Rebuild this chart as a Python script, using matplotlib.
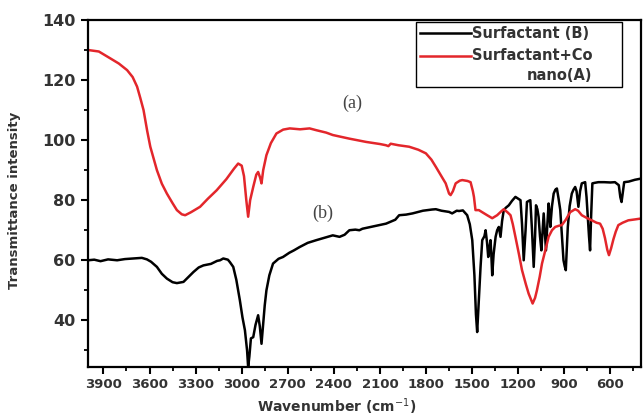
import matplotlib
matplotlib.use("Agg")
import matplotlib.pyplot as plt
from matplotlib.ticker import MultipleLocator
from matplotlib.legend_handler import HandlerLine2D

# FTIR spectra (wavenumber in cm^-1, transmittance)
# curve (a): surfactant + Co nano
wn_a = [4000, 3930, 3855, 3800, 3746, 3710, 3681, 3660, 3639, 3615, 3595, 3552,
        3520, 3487, 3450, 3422, 3390, 3368, 3330, 3271, 3220, 3163, 3100, 3050,
        3023, 3000, 2985, 2970, 2958, 2945, 2925, 2905, 2893, 2880, 2871, 2860,
        2839, 2810, 2774, 2730, 2687, 2620, 2558, 2514, 2450, 2407, 2300, 2190,
        2100, 2061, 2045, 2030, 1980, 1910, 1850, 1801, 1765, 1736, 1700, 1672,
        1650, 1640, 1625, 1607, 1580, 1564, 1530, 1510, 1495, 1488, 1478, 1456,
        1434, 1402, 1369, 1337, 1310, 1294, 1270, 1250, 1235, 1218, 1195, 1175,
        1150, 1132, 1106, 1090, 1078, 1060, 1045, 1020, 1002, 980, 959, 935,
        916, 890, 862, 829, 810, 786, 750, 721, 690, 667, 650, 635,
        620, 609, 595, 580, 565, 548, 520, 483, 440, 400]
tr_a = [130.0, 129.5, 127.2, 125.5, 123.3, 121.0, 117.8, 114.0, 110.0, 103.0, 97.8, 90.0,
        85.5, 82.2, 79.0, 76.7, 75.3, 75.0, 76.0, 77.8, 80.5, 83.3, 87.0, 90.5,
        92.2, 91.5, 88.0, 80.0, 74.5, 80.0, 84.4, 88.5, 89.4, 87.5, 85.6, 90.0,
        95.0, 99.0, 102.2, 103.5, 103.9, 103.6, 103.9, 103.3, 102.5, 101.7, 100.5, 99.4,
        98.7, 98.3, 98.0, 98.8, 98.3, 97.8, 96.8, 95.6, 93.5, 91.1, 88.0, 85.6,
        82.2, 81.7, 83.0, 85.6, 86.5, 86.7, 86.4, 86.0, 83.0, 81.1, 76.7, 76.7,
        76.0, 75.0, 74.0, 75.0, 76.3, 77.0, 76.0, 75.0, 72.0, 67.8, 62.0, 56.7,
        52.0, 48.9, 45.6, 47.5, 50.0, 54.5, 58.9, 64.0, 67.8, 70.0, 71.1, 71.5,
        71.7, 73.5, 76.0, 77.0, 76.5, 75.0, 74.0, 73.3, 72.5, 72.2, 70.5, 67.4,
        63.5, 61.7, 64.0, 67.0, 69.5, 71.7, 72.5, 73.3, 73.6, 73.9]

# curve (b): surfactant alone
wn_b = [4000, 3960, 3919, 3870, 3811, 3760, 3703, 3650, 3617, 3590, 3552, 3520,
        3487, 3450, 3422, 3379, 3345, 3314, 3280, 3249, 3200, 3160, 3141, 3120,
        3090, 3077, 3055, 3035, 3012, 2995, 2979, 2965, 2958, 2950, 2940, 2925,
        2910, 2893, 2882, 2871, 2860, 2850, 2839, 2820, 2796, 2760, 2731, 2690,
        2660, 2623, 2570, 2514, 2460, 2407, 2363, 2330, 2299, 2260, 2234, 2214,
        2150, 2060, 2000, 1975, 1930, 1888, 1820, 1760, 1736, 1700, 1650, 1630,
        1600, 1585, 1560, 1542, 1532, 1515, 1499, 1485, 1475, 1467, 1458, 1445,
        1434, 1420, 1412, 1403, 1395, 1388, 1380, 1375, 1369, 1360, 1347, 1337,
        1326, 1315, 1305, 1294, 1280, 1261, 1240, 1218, 1200, 1185, 1175, 1164,
        1152, 1143, 1130, 1121, 1110, 1099, 1090, 1084, 1075, 1067, 1058, 1049,
        1042, 1034, 1027, 1019, 1010, 1002, 996, 991, 980, 969, 958, 948,
        937, 926, 915, 905, 897, 890, 884, 877, 865, 851, 840, 829,
        820, 808, 797, 786, 775, 764, 755, 747, 739, 732, 725, 717,
        700, 678, 640, 600, 570, 545, 535, 527, 518, 510, 480, 440, 400]
tr_b = [60.0, 60.2, 59.7, 60.3, 60.0, 60.4, 60.6, 60.8, 60.3, 59.5, 57.8, 55.5,
        53.9, 52.7, 52.4, 52.8, 54.5, 56.1, 57.6, 58.3, 58.8, 59.8, 60.0, 60.6,
        60.2, 59.4, 57.8, 53.5, 46.7, 41.0, 36.7, 30.0, 24.4, 28.0, 34.0, 34.4,
        38.5, 41.7, 38.0, 32.2, 39.0, 45.0, 50.0, 55.0, 58.9, 60.5, 61.1, 62.5,
        63.3, 64.4, 65.8, 66.7, 67.5, 68.3, 67.8, 68.5, 70.0, 70.2, 70.0, 70.5,
        71.2, 72.2, 73.5, 75.0, 75.2, 75.6, 76.5, 76.9, 77.0, 76.5, 76.1, 75.6,
        76.5, 76.4, 76.6, 75.6, 75.0, 72.0, 66.7, 55.0, 42.0, 36.1, 45.0, 57.8,
        66.7, 68.0, 70.0, 66.0, 61.1, 64.0, 66.7, 62.0, 55.0, 62.0, 67.8, 70.0,
        71.1, 67.8, 73.0, 76.7, 77.5, 78.3, 79.8, 81.1, 80.5, 80.0, 72.0, 60.0,
        70.0, 79.4, 79.8, 80.0, 70.0, 57.8, 68.0, 78.3, 77.0, 74.4, 68.0, 63.3,
        69.0, 75.6, 70.0, 63.3, 72.0, 78.9, 76.0, 71.1, 78.0, 82.2, 83.5, 83.9,
        80.5, 76.7, 68.0, 60.0, 58.0, 56.7, 63.0, 71.1, 78.0, 82.2, 83.5, 84.4,
        83.0, 77.8, 83.0, 85.6, 85.8, 86.0, 81.0, 74.4, 68.0, 63.3, 75.0, 85.6,
        85.8, 86.0, 86.0, 85.9, 86.0, 85.0, 81.0, 79.4, 83.0, 86.0, 86.2, 86.8, 87.2]

label_b = "Surfactant (B)"
label_a = "Surfactant+Co\nnano(A)"

txt = "#333333"
leg_fs = 10.5
leg_ls = 1.4


# put the legend line on the first line of a two-line label
class FirstLineHandler(HandlerLine2D):
    def __init__(self, shift=0.0, **kw):
        super().__init__(**kw)
        self.shift = shift

    def create_artists(self, legend, orig_handle, xdescent, ydescent, width, height, fontsize, trans):
        arts = super().create_artists(legend, orig_handle, xdescent, ydescent, width, height, fontsize, trans)
        for a in arts:
            a.set_ydata([y + self.shift for y in a.get_ydata()])
        return arts


fig = plt.figure(figsize=(6.43, 4.16), dpi=100)
ax = fig.add_axes([0.137, 0.118, 0.860, 0.834])

line_b, = ax.plot(wn_b, tr_b, color="black", lw=1.8, label=label_b)
line_a, = ax.plot(wn_a, tr_a, color="#e3262b", lw=1.8, label=label_a)

ax.set_xlim(4000, 400)
ax.set_ylim(24.5, 140)

ax.xaxis.set_major_locator(MultipleLocator(300))
ax.xaxis.set_minor_locator(MultipleLocator(150))
ax.yaxis.set_major_locator(MultipleLocator(20))
ax.yaxis.set_minor_locator(MultipleLocator(10))
ax.tick_params(which="major", direction="out", length=5, width=1.5, colors="black")
ax.tick_params(which="minor", direction="out", length=3, width=1.3)
ax.tick_params(axis="x", labelsize=9.5, labelcolor=txt, pad=3)
ax.tick_params(axis="y", labelsize=11.5, labelcolor=txt, pad=4)
for lab in ax.get_xticklabels() + ax.get_yticklabels():
    lab.set_fontweight("bold")

for s in ax.spines.values():
    s.set_linewidth(1.6)

ax.set_xlabel("Wavenumber (cm$^{-1}$)", fontsize=10, fontweight="bold", color=txt)
ax.xaxis.set_label_coords(0.45, -0.085)
ax.set_ylabel("Transmittance intensity", fontsize=9.5, fontweight="bold", color=txt)
ax.yaxis.set_label_coords(-0.122, 0.48)

ax.text(2279, 112.3, "(a)", family="Liberation Serif", fontsize=13, color="#444444",
        ha="center", va="center")
ax.text(2473, 75.7, "(b)", family="Liberation Serif", fontsize=13, color="#444444",
        ha="center", va="center")

leg = ax.legend(handles=[line_b, line_a], loc="upper left", mode="expand",
                bbox_to_anchor=(0.593, 0.0, 0.3725, 0.994),
                borderaxespad=0, fancybox=False, framealpha=1, edgecolor="black",
                handlelength=3.5, handletextpad=0.05, borderpad=0.3, labelspacing=0.45,
                prop={"size": leg_fs, "weight": "bold"},
                handler_map={line_a: FirstLineHandler(shift=0.5 * leg_ls * leg_fs),
                             line_b: FirstLineHandler(shift=0.0)})
leg.get_frame().set_linewidth(1.0)
for t in leg.get_texts():
    t.set_color(txt)
    t.set_multialignment("right")
    t.set_linespacing(leg_ls)

fig.savefig("out.png", dpi=100)
